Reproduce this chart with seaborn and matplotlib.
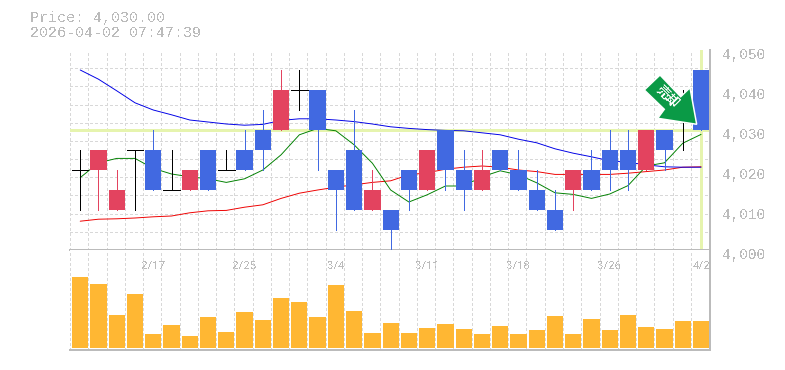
import numpy as np
import pandas as pd
import seaborn as sns
import matplotlib
matplotlib.use("Agg")
import matplotlib.pyplot as plt
from matplotlib.patches import Polygon
from matplotlib.transforms import ScaledTranslation, Affine2D

opens  = [4020,4020,4010,4025,4025,4015,4015,4025,4020,4025,4030,4030,4040,4040,4020,4025,4010,4010,4020,4015,4030,4020,4015,4025,4020,4015,4010,4015,4020,4025,4025,4020,4030,4035,4045]
closes = [4020,4025,4015,4025,4015,4015,4020,4015,4020,4020,4025,4040,4040,4030,4015,4010,4015,4005,4015,4025,4020,4015,4020,4020,4015,4010,4005,4020,4015,4020,4020,4030,4025,4035,4030]
highs  = [4025,4025,4020,4025,4030,4025,4020,4025,4025,4030,4035,4045,4045,4040,4020,4035,4020,4010,4020,4025,4030,4025,4025,4025,4025,4020,4015,4020,4025,4030,4030,4030,4030,4040,4045]
lows   = [4010,4010,4010,4010,4015,4015,4015,4015,4020,4020,4020,4030,4035,4020,4005,4010,4010,4000,4010,4015,4015,4010,4015,4020,4015,4010,4005,4010,4015,4015,4015,4020,4020,4025,4030]
ma_blue = [4045,4042.7,4039.8,4036.8,4035,4033.8,4032.5,4032,4031.5,4031.2,4031.4,4032.4,4032.8,4032.8,4032.5,4032.1,4031.5,4030.8,4030.4,4030.1,4029.9,4029.8,4029.3,4028.8,4027.7,4026.8,4025.3,4024.2,4023.3,4022.3,4021.9,4021.3,4020.8,4020.7,4020.7]
ma_green = [4018.1,4021.8,4022.9,4022.9,4020.4,4019,4018.3,4017.8,4016.9,4017.8,4020,4023.8,4028.8,4030.4,4029.8,4026.3,4021.7,4015,4012,4013.8,4016,4016,4018.3,4019.8,4018.8,4016.8,4014.3,4013.9,4012.9,4014,4016.1,4021,4021.8,4026.7,4028.9]
ma_red = [4007.2,4007.7,4007.8,4008,4008.3,4008.5,4009.3,4009.8,4009.9,4010.7,4011.3,4012.9,4014.2,4015,4015.7,4016.3,4016.9,4017.3,4018.8,4019.3,4020.2,4020.7,4021,4020.7,4020,4019.6,4018.9,4018.9,4018.9,4018.9,4019.2,4019.6,4020,4020.7,4020.8]
volumes = [71,64,33,54,14,23,12,31,16,36,28,50,46,31,63,37,15,25,15,20,24,19,14,22,14,18,32,14,29,18,33,21,19,27,27]
y_ticks = [4000,4010,4020,4030,4040,4050]
date_idx = [4,9,14,19,24,29,34]
date_labels = ["2/17","2/25","3/4","3/11","3/18","3/26","4/2"]
last_price = 4030
price_text = "Price: 4,030.00"
time_text = "2026-04-02 07:47:39"

RED, BLUE, ORANGE = "#e3435f", "#4169e1", "#ffb733"
GREY, GRID, LIME = "#bbbbbb", "#d8d8d8", "#e6f4ae"
MONO = "Liberation Mono"
PX = 0.72

sns.set_style("white")
plt.rcParams["lines.antialiased"] = False
plt.rcParams["patch.antialiased"] = False
plt.rcParams["text.antialiased"] = False

W, H = 785, 370
fig = plt.figure(figsize=(W/100, H/100), dpi=100, facecolor="white")
L, R, T, M, B = 70, 710, 50, 250, 350
ax = fig.add_axes([L/W, 1-M/H, (R-L)/W, (M-T)/H])
av = fig.add_axes([L/W, 1-B/H, (R-L)/W, (B-M)/H])

n = len(opens)
xs = np.arange(n)
xlim = (-0.56, 34.49)
edges = np.arange(xlim[0], xlim[1]+0.5, 1.0)
df = pd.DataFrame({"i": xs, "blue": ma_blue, "green": ma_green, "red": ma_red, "vol": volumes})

# volume panel
sns.barplot(data=df, x="i", y="vol", native_scale=True, color=ORANGE, saturation=1,
            width=0.89, errorbar=None, ax=av, zorder=3, edgecolor="none", linewidth=0)
av.set_xlim(*xlim); av.set_ylim(-2, 98)
av.set_xlabel(""); av.set_ylabel("")
av.set_yticks([])
av.set_xticks(date_idx); av.set_xticklabels(date_labels)
av.set_xticks(edges, minor=True)
av.grid(False)
av.grid(True, which="minor", axis="x", color=GRID, lw=PX, ls=(0, (2.5, 2.5)), zorder=0)
av.set_axisbelow(True)
av.tick_params(axis="x", which="both", length=0, top=False, bottom=False, labeltop=True,
               labelbottom=False, pad=-15, labelsize=8.2, labelcolor=GREY)
for t in av.get_xticklabels():
    t.set_family("Roboto")
for s in ("top", "left"):
    av.spines[s].set_visible(False)
for s in ("bottom", "right"):
    av.spines[s].set_color(GREY); av.spines[s].set_linewidth(PX*1.5)

# price panel
ax.set_xlim(*xlim); ax.set_ylim(4000, 4050)
ax.set_xticks([]); ax.set_xticks(edges, minor=True)
ax.set_yticks(y_ticks); ax.set_yticks(np.linspace(4000, 4050, 12), minor=True)
ax.grid(False)
ax.grid(True, which="minor", color=GRID, lw=PX, ls=(0, (2.5, 2.5)), zorder=0)
ax.set_axisbelow(True)
ax.axhline(last_price, color=LIME, lw=PX*3, zorder=1)
ax.axvline(n-1, color=LIME, lw=PX*3, zorder=1)
LW = PX*0.95
for col_name, col in (("red", "#ee0000"), ("blue", "#0000e6"), ("green", "#008000")):
    sns.lineplot(data=df, x="i", y=col_name, color=col, ax=ax, zorder=2, errorbar=None)
for line in ax.lines[2:]:
    line.set_linewidth(PX*0.95)
    line.set_antialiased(True)
ax.set_xlabel(""); ax.set_ylabel("")
for i in range(n):
    o, c, h, l = opens[i], closes[i], highs[i], lows[i]
    col = RED if c > o else BLUE if c < o else "black"
    ax.vlines(i, l, h, color=col, lw=LW, zorder=3)
    if c == o:
        ax.hlines(o, i-0.45, i+0.45, color=col, lw=LW, zorder=3)
    else:
        ax.bar(i, abs(c-o), bottom=min(o, c), width=0.89, color=col, lw=0, zorder=4)
ax.set_xlim(*xlim); ax.set_ylim(4000, 4050)
ax.yaxis.tick_right()
ax.set_yticklabels([f"{v:,}" for v in y_ticks])
ax.tick_params(axis="y", which="both", length=0, pad=9, labelsize=10.4, labelcolor=GREY, right=False, left=False)
off = ScaledTranslation(0, -3/100, fig.dpi_scale_trans)
for t in ax.get_yticklabels():
    t.set_family(MONO)
    t.set_transform(t.get_transform() + off)
for s in ("top", "left"):
    ax.spines[s].set_visible(False)
for s in ("bottom", "right"):
    ax.spines[s].set_color(GREY); ax.spines[s].set_linewidth(PX*1.5)

# sell arrow badge (figure pixel coordinates, y from top)
to_fig = Affine2D().scale(1/W, -1/H).translate(0, 1) + fig.transFigure
arrow = [(660,75),(644.3,90),(664.3,109.3),(657.7,118.3),(696.7,124.3),(690,87.7),(680.7,96.7)]
fig.add_artist(Polygon(arrow, closed=True, transform=to_fig, facecolor="#0a9a46", edgecolor="white",
                       lw=PX*1.5, antialiased=True, zorder=10))
fig.text(667/W, 1-97/H, "売却", color="white", fontsize=9.4, fontweight="bold", rotation=-45,
         ha="center", va="center", family=["Noto Sans CJK JP", "DejaVu Sans"], zorder=11)

fig.text(30/W, 1-18/H, price_text, color=GREY, fontsize=10.8, family=MONO, ha="left", va="center")
fig.text(30/W, 1-33/H, time_text, color=GREY, fontsize=10.8, family=MONO, ha="left", va="center")

fig.savefig("out.png", dpi=100, facecolor="white")
